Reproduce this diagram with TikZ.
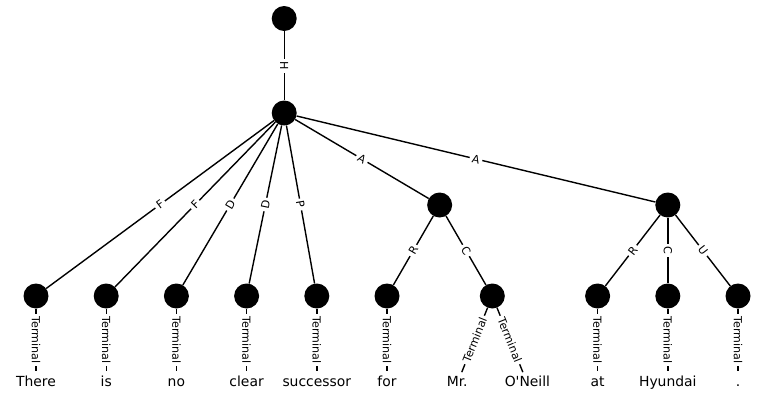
\documentclass[tikz,border=0pt]{standalone}
\usepackage{fontspec}
\setmainfont{DejaVu Sans}
\begin{document}
\begin{tikzpicture}[x=1pt,y=-1pt,
  vertex/.style={circle,fill=black,minimum size=25pt,inner sep=0pt},
  word/.style={circle,minimum size=24pt,inner sep=0pt},
  wordtext/.style={font=\fontsize{13.9}{16}\selectfont,text height=10pt,text depth=5pt,inner sep=0pt},
  edge/.style={line width=1.4pt},
  elabel/.style={midway,sloped,fill=white,inner sep=2.6pt,font=\fontsize{11.1}{13}\selectfont}]
\useasboundingbox (0,0) rectangle (774,407);

% tree nodes
\node[vertex] (root) at (284.2,18.5) {};
\node[vertex] (n1) at (284.2,113) {};
\node[vertex] (a1) at (439.65,205) {};
\node[vertex] (a2) at (667.8,205) {};
\node[vertex] (l1) at (36,296) {};
\node[vertex] (l2) at (106.2,296) {};
\node[vertex] (l3) at (176.4,296) {};
\node[vertex] (l4) at (246.6,296) {};
\node[vertex] (l5) at (316.8,296) {};
\node[vertex] (l6) at (387,296) {};
\node[vertex] (l7) at (492.3,296) {};
\node[vertex] (l8) at (597.6,296) {};
\node[vertex] (l9) at (667.8,296) {};
\node[vertex] (l10) at (738,296) {};

% words
\node[word,label={[wordtext]center:There}] (w1) at (36,383.5) {};
\node[word,label={[wordtext]center:is}] (w2) at (106.2,383.5) {};
\node[word,label={[wordtext]center:no}] (w3) at (176.4,383.5) {};
\node[word,label={[wordtext]center:clear}] (w4) at (246.6,383.5) {};
\node[word,label={[wordtext]center:successor}] (w5) at (316.8,383.5) {};
\node[word,label={[wordtext]center:for}] (w6) at (387,383.5) {};
\node[word,label={[wordtext]center:Mr.}] (w7) at (457.2,383.5) {};
\node[word,label={[wordtext]center:O\textquotesingle Neill}] (w8) at (527.4,383.5) {};
\node[word,label={[wordtext]center:at}] (w9) at (597.6,383.5) {};
\node[word,label={[wordtext]center:Hyundai}] (w10) at (667.8,383.5) {};
\node[word,label={[wordtext]center:.}] (w11) at (738,383.5) {};

% labelled edges
\draw[edge] (root) -- node[elabel] {H} (n1);
\draw[edge] (n1) -- node[elabel] {F} (l1);
\draw[edge] (n1) -- node[elabel] {F} (l2);
\draw[edge] (n1) -- node[elabel] {D} (l3);
\draw[edge] (n1) -- node[elabel] {D} (l4);
\draw[edge] (n1) -- node[elabel] {P} (l5);
\draw[edge] (n1) -- node[elabel] {A} (a1);
\draw[edge] (n1) -- node[elabel] {A} (a2);
\draw[edge] (a1) -- node[elabel] {R} (l6);
\draw[edge] (a1) -- node[elabel] {C} (l7);
\draw[edge] (a2) -- node[elabel] {R} (l8);
\draw[edge] (a2) -- node[elabel] {C} (l9);
\draw[edge] (a2) -- node[elabel] {U} (l10);

% terminal edges
\draw[edge] (l1) -- node[elabel] {Terminal} (w1);
\draw[edge] (l2) -- node[elabel] {Terminal} (w2);
\draw[edge] (l3) -- node[elabel] {Terminal} (w3);
\draw[edge] (l4) -- node[elabel] {Terminal} (w4);
\draw[edge] (l5) -- node[elabel] {Terminal} (w5);
\draw[edge] (l6) -- node[elabel] {Terminal} (w6);
\draw[edge] (l7) -- node[elabel] {Terminal} (w7);
\draw[edge] (l7) -- node[elabel] {Terminal} (w8);
\draw[edge] (l8) -- node[elabel] {Terminal} (w9);
\draw[edge] (l9) -- node[elabel] {Terminal} (w10);
\draw[edge] (l10) -- node[elabel] {Terminal} (w11);
\end{tikzpicture}
\end{document}
